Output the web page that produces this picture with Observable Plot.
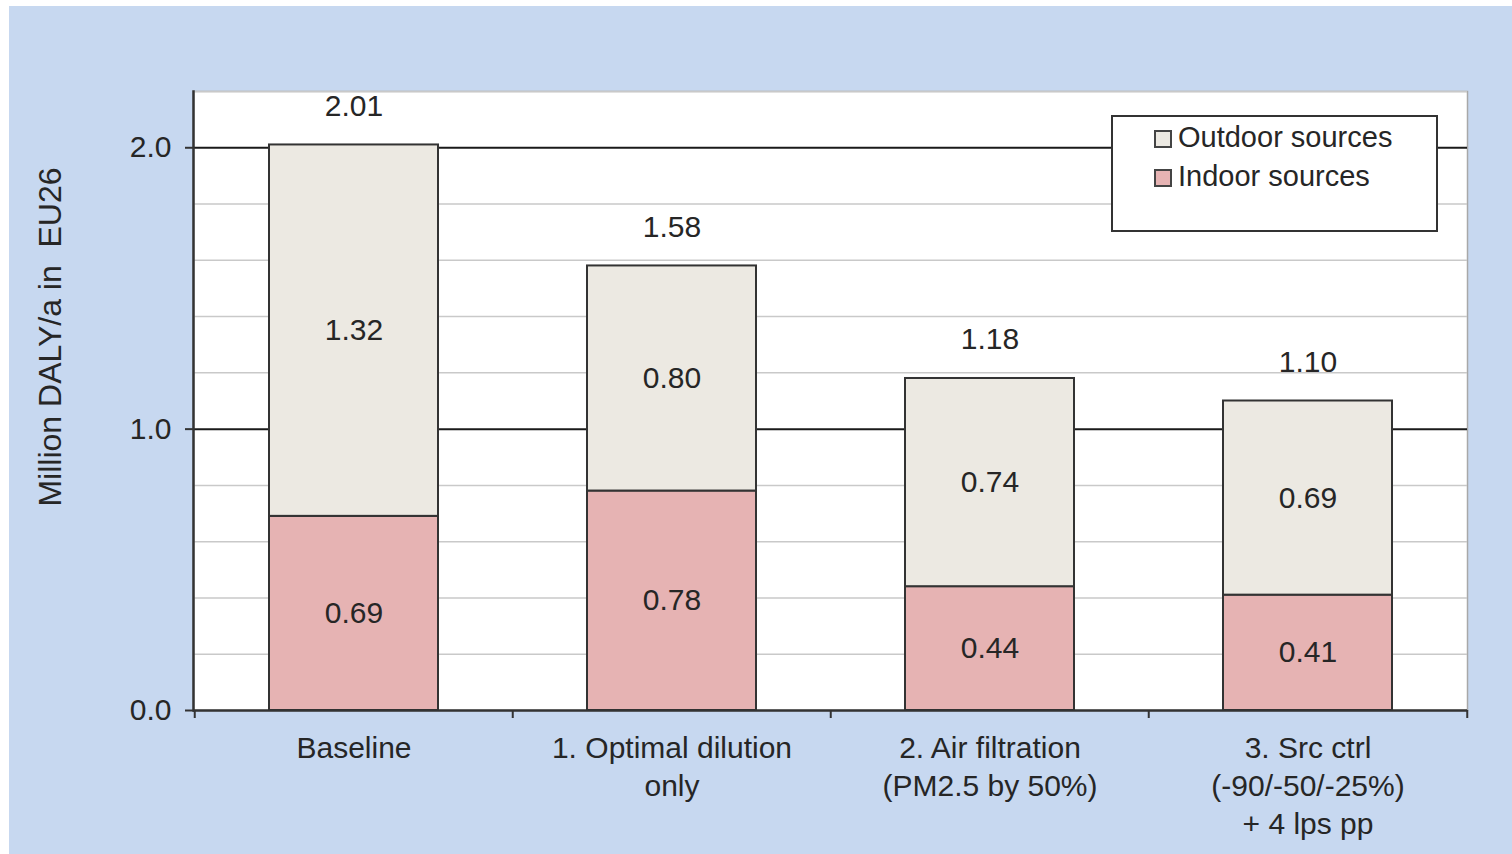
<!DOCTYPE html>
<html>
<head>
<meta charset="utf-8">
<script src="https://cdn.jsdelivr.net/npm/d3@7"></script>
<script src="https://cdn.jsdelivr.net/npm/@observablehq/plot@0.6"></script>
<style>
  html, body { margin: 0; padding: 0; background: #fff; }
  #wrap { position: absolute; left: 9px; top: 6px; width: 1503px; height: 848px; background: #c7d8f0; overflow: hidden; }
  #legend { position: absolute; left: 1102px; top: 109px; width: 327px; height: 117px; box-sizing: border-box;
    border: 2px solid #333; background: #fff; font-family: "Liberation Sans", Arial, sans-serif; font-size: 29px; color: #262626; }
  .item { position: absolute; left: 41px; height: 34px; line-height: 34px; white-space: nowrap; }
  .sw { display: inline-block; width: 14px; height: 14px; border: 2px solid #444; margin-right: 6px; vertical-align: -1px; }
</style>
</head>
<body>
<div id="wrap"><div id="legend"></div></div>
<script>
// ---- data ----
const categories = ["Baseline", "1. Optimal dilution\nonly", "2. Air filtration\n(PM2.5 by 50%)", "3. Src ctrl\n(-90/-50/-25%)\n+ 4 lps pp"];
const indoor = [0.69, 0.78, 0.44, 0.41];
const outdoor = [1.32, 0.80, 0.74, 0.69];
const totals = [2.01, 1.58, 1.18, 1.10];
const seriesNames = ["Indoor sources", "Outdoor sources"];
const seriesColors = ["#e6b3b3", "#ece9e2"];
const legendOrder = ["Outdoor sources", "Indoor sources"];
const yTickValues = [0, 1, 2];
const gridValues = [0.2, 0.4, 0.6, 0.8, 1.2, 1.4, 1.6, 1.8, 2.2];
const yLabel = "Million DALY/a in\u00a0\u00a0EU26";

// ---- tables ----
const rows = [];
categories.forEach((c, i) => {
  rows.push({cat: c, series: "Indoor sources", value: indoor[i]});
  rows.push({cat: c, series: "Outdoor sources", value: outdoor[i]});
});
const totalRows = categories.map((c, i) => ({cat: c, total: totals[i]}));
const fmt2 = d3.format(".2f");
const fmt1 = d3.format(".1f");

const W = 1503, H = 848;
const mL = 184, mR = 45, mT = 85, mB = 144;
const step = (W - mL - mR) / categories.length;
const ink = "#262626";

const chart = Plot.plot({
  width: W, height: H,
  marginLeft: mL, marginRight: mR, marginTop: mT, marginBottom: mB,
  style: {background: "transparent", fontFamily: "'Liberation Sans', Arial, sans-serif", fontSize: "30px", color: ink},
  x: {domain: categories, paddingInner: 0.47, paddingOuter: 0.235, axis: null},
  y: {domain: [0, 2.2], axis: null},
  color: {domain: seriesNames, range: seriesColors},
  marks: [
    Plot.frame({fill: "#fff", stroke: "#a8a8a8", strokeWidth: 1.5}),
    Plot.ruleY(gridValues, {stroke: "#c9c9c9", strokeWidth: 1.5}),
    Plot.ruleY(yTickValues.filter(d => d > 0), {stroke: "#1a1a1a", strokeWidth: 2}),
    Plot.barY(rows, Plot.stackY({x: "cat", y: "value", fill: "series", stroke: "#333", strokeWidth: 2})),
    Plot.text(rows, Plot.stackY({x: "cat", y: "value", text: d => fmt2(d.value), fill: ink})),
    Plot.text(totalRows, {x: "cat", y: "total", text: d => fmt2(d.total), dy: -39, fill: ink}),
    Plot.ruleY([0], {stroke: "#333", strokeWidth: 2.5}),
    Plot.frame({anchor: "left", stroke: "#333", strokeWidth: 2.5}),
    Plot.axisY(yTickValues, {anchor: "left", tickSize: 8, tickPadding: 14, tickFormat: fmt1, label: null, stroke: "#333", strokeWidth: 2}),
    Plot.axisX(categories, {anchor: "bottom", tickSize: 8, tickFormat: () => "", label: null, dx: -step / 2, stroke: "#333", strokeWidth: 2}),
    Plot.axisX([categories[categories.length - 1]], {anchor: "bottom", tickSize: 8, tickFormat: () => "", label: null, dx: step / 2, stroke: "#333", strokeWidth: 2}),
    Plot.text(categories, {x: d => d, text: d => d, frameAnchor: "bottom", lineAnchor: "top", dy: 20, lineHeight: 1.27, fill: ink}),
    Plot.text([yLabel], {text: d => d, frameAnchor: "left", textAnchor: "middle", rotate: -90, dx: -143, dy: -64, fill: ink, fontSize: 32})
  ]
});
document.getElementById("wrap").prepend(chart);

// legend
const legend = document.getElementById("legend");
legendOrder.forEach((name, i) => {
  const div = document.createElement("div");
  div.className = "item";
  div.style.top = (3 + i * 39) + "px";
  const sw = document.createElement("span");
  sw.className = "sw";
  sw.style.background = seriesColors[seriesNames.indexOf(name)];
  div.appendChild(sw);
  div.appendChild(document.createTextNode(name));
  legend.appendChild(div);
});
</script>
</body>
</html>
